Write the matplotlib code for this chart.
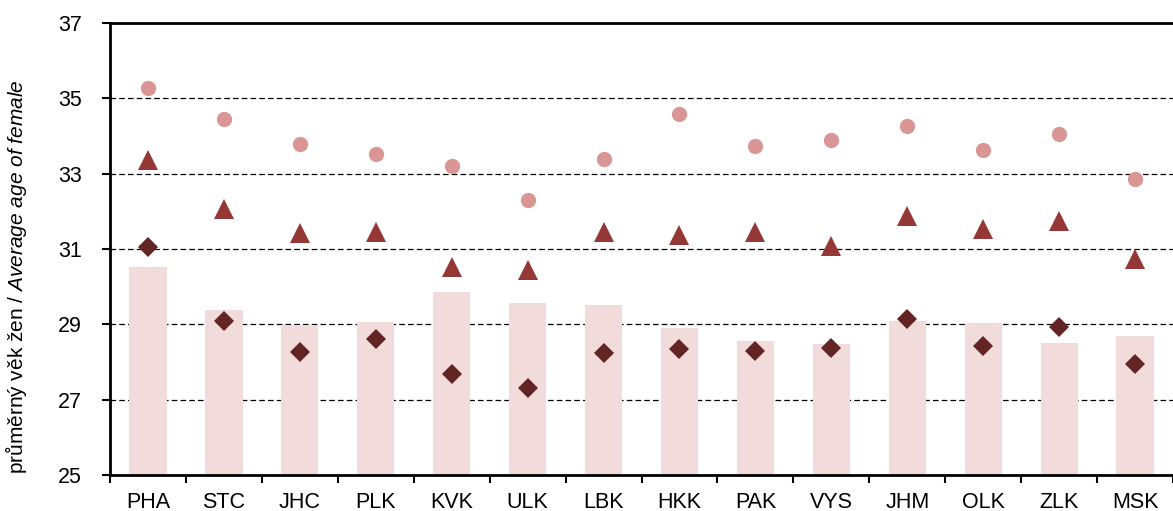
import numpy as np
import matplotlib
matplotlib.use('Agg')
import matplotlib.pyplot as plt
from matplotlib.ticker import FixedLocator

plt.rcParams['font.family'] = ['Liberation Sans', 'DejaVu Sans']
plt.rcParams['mathtext.fontset'] = 'custom'
plt.rcParams['mathtext.rm'] = 'Liberation Sans'
plt.rcParams['mathtext.it'] = 'Liberation Sans:italic'

# kraje
regions = ['PHA', 'STC', 'JHC', 'PLK', 'KVK', 'ULK', 'LBK',
           'HKK', 'PAK', 'VYS', 'JHM', 'OLK', 'ZLK', 'MSK']

# bars (light)
bar_vals = [30.52, 29.38, 28.99, 29.07, 29.86, 29.57, 29.51,
            28.91, 28.56, 28.49, 29.09, 29.03, 28.50, 28.70]
# diamonds
diamond_vals = [31.06, 29.09, 28.27, 28.61, 27.68, 27.32, 28.25,
                28.34, 28.30, 28.38, 29.15, 28.42, 28.94, 27.94]
# triangles
triangle_vals = [33.36, 32.06, 31.42, 31.45, 30.52, 30.44, 31.45,
                 31.37, 31.44, 31.08, 31.88, 31.52, 31.74, 30.73]
# circles
circle_vals = [35.27, 34.45, 33.79, 33.52, 33.20, 32.30, 33.39,
               34.58, 33.73, 33.89, 34.27, 33.63, 34.05, 32.86]

x = np.arange(len(regions))

fig = plt.figure(figsize=(11.73, 5.11), dpi=100)
ax = fig.add_axes([0.0938, 0.0705, 0.9062, 0.8845])

ax.set_axisbelow(True)
ax.yaxis.grid(True, color='black', linestyle=(0, (4.5, 2.5)), linewidth=0.9)

ax.bar(x, np.array(bar_vals) - 25, bottom=25, width=0.49, color='#f2dcdb', zorder=2)
ax.plot(x, diamond_vals, 'D', color='#632523', ms=10.5, mew=0, zorder=3)
ax.plot(x, triangle_vals, '^', color='#953735', ms=14.5, mew=0, zorder=3)
ax.plot(x, circle_vals, 'o', color='#d99694', ms=11, mew=0, zorder=3)

ax.set_xlim(-0.5, len(regions) - 0.5)
ax.set_ylim(25, 37)
ax.set_yticks(np.arange(25, 38, 2))
ax.set_xticks(x)
ax.set_xticklabels(regions)
ax.xaxis.set_minor_locator(FixedLocator(np.arange(-0.5, len(regions), 1)))
ax.tick_params(axis='x', which='major', length=0, labelsize=15.5, pad=12)
ax.tick_params(axis='x', which='minor', length=6, width=1.5, direction='out')
ax.tick_params(axis='y', length=6, width=1.5, direction='out', labelsize=15.5, pad=14)

for side in ['left', 'bottom', 'top']:
    ax.spines[side].set_linewidth(2)
ax.spines['right'].set_visible(False)

ax.set_ylabel(r'průměrný věk žen / $\mathit{Average\ age\ of\ female}$', fontsize=15)
ax.yaxis.set_label_coords(-0.076, 0.438)

fig.savefig('out.png', dpi=100)
